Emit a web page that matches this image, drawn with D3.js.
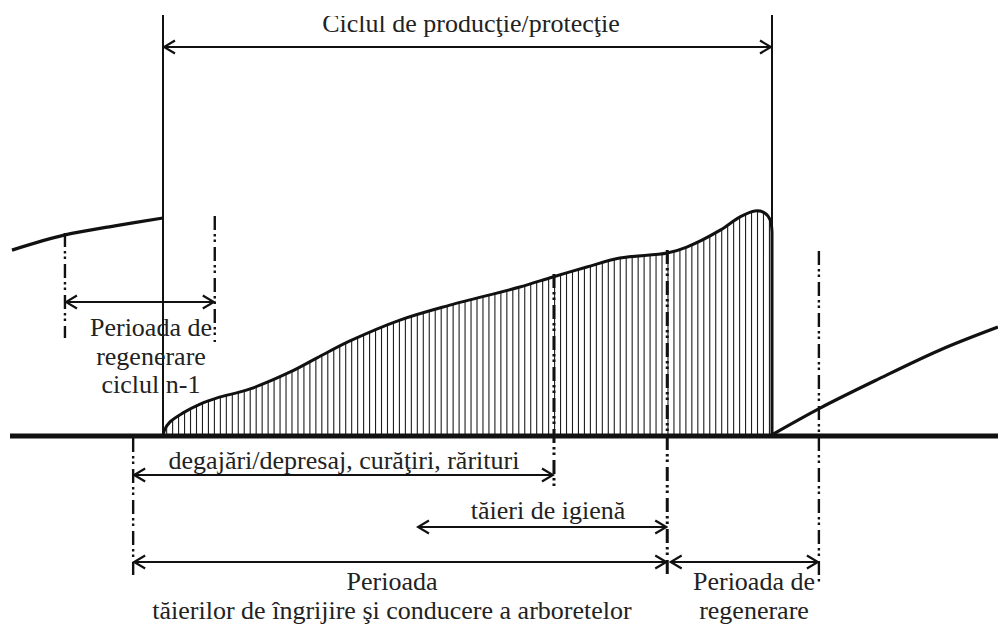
<!DOCTYPE html>
<html>
<head>
<meta charset="utf-8">
<script src="https://cdn.jsdelivr.net/npm/d3@7"></script>
<style>
  body { margin: 0; background: #fff; }
  svg { display: block; }
  text { font-family: "Liberation Serif", "Times New Roman", serif; fill: #222; }
</style>
</head>
<body>
<div id="diagram"></div>
<script>
// ciclul curent (varsta relativa 0-100 si marimea arboretului)
const cycleAge = [0, 0.25, 1.15, 3.3, 6.1, 8.9, 14.3, 20.9, 25.3, 30.7, 38.9, 47.1, 58.6, 64.0, 69.6, 75.0, 82.8, 86.0, 91.5, 94.7, 97.2, 98.8, 99.7, 100];
const cycleVal = [0, 2.7, 6.4, 10.5, 14.5, 17.3, 21.4, 29.1, 35.5, 43.2, 52.7, 59.5, 67.7, 72.3, 76.8, 80.9, 83.2, 85.9, 93.6, 99.5, 102.3, 101.4, 98.2, 92.7];

// ciclul n-1 si ciclul urmator
const prevAge = [-24.8, -16.1, -7.9, 0];
const prevVal = [84.5, 91.4, 95.5, 99.1];
const nextAge = [100.2, 107.9, 117.2, 127.6, 137.1];
const nextVal = [0.9, 12.7, 25.5, 39.1, 49.5];

// limitele perioadelor (varsta)
const marks = [-16.1, 8.5, -4.9, 64.2, 82.8, 107.7];

// perioadele marcate cu sageti
const periods = [
  { label: ["Ciclul de producţie/protecţie"], from: 0, to: 100 },
  { label: ["Perioada de", "regenerare", "ciclul n-1"], from: -16.1, to: 8.5 },
  { label: ["degajări/depresaj, curăţiri, rărituri"], from: -4.9, to: 64.2 },
  { label: ["tăieri de igienă"], from: 41.7, to: 82.8 },
  { label: ["Perioada", "tăierilor de îngrijire şi conducere a arboretelor"], from: -4.9, to: 82.8 },
  { label: ["Perioada de", "regenerare"], from: 83.2, to: 107.7 }
];

const width = 998, height = 626;

const x = d3.scaleLinear().domain([0, 100]).range([163, 772]);
const y = d3.scaleLinear().domain([0, 100]).range([436, 216]);

const svg = d3.select("#diagram")
  .append("svg")
  .attr("width", width)
  .attr("height", height);

const defs = svg.append("defs");

defs.append("marker")
  .attr("id", "head")
  .attr("viewBox", "-12 -8 14 16")
  .attr("refX", 0)
  .attr("refY", 0)
  .attr("markerWidth", 14)
  .attr("markerHeight", 16)
  .attr("markerUnits", "userSpaceOnUse")
  .attr("orient", "auto-start-reverse")
  .append("path")
  .attr("d", "M-11,-6.5 L0,0 L-11,6.5")
  .attr("fill", "none")
  .attr("stroke", "#111")
  .attr("stroke-width", 2.2);

const line = d3.line()
  .x(d => x(d[0]))
  .y(d => y(d[1]))
  .curve(d3.curveCatmullRom.alpha(0.5));

const cyclePts = cycleAge.map((a, i) => [a, cycleVal[i]]);
const topPath = line(cyclePts);
const areaPath = topPath + `L${x(100)},${y(0)}L${x(0)},${y(0)}Z`;

defs.append("clipPath")
  .attr("id", "cycle-clip")
  .append("path")
  .attr("d", areaPath);

// titlul e taiat sus, ca in original
defs.append("clipPath")
  .attr("id", "title-clip")
  .append("rect")
  .attr("x", 0).attr("y", 16)
  .attr("width", width).attr("height", 40);

// hasura verticala
svg.append("g")
  .attr("clip-path", "url(#cycle-clip)")
  .selectAll("line")
  .data(d3.range(0.6, 100, 0.98))
  .join("line")
  .attr("x1", d => x(d)).attr("x2", d => x(d))
  .attr("y1", y(110)).attr("y2", y(0))
  .attr("stroke", "#1e1e1e")
  .attr("stroke-width", 1.1);

// curba ciclului curent
svg.append("path")
  .attr("d", topPath + `L${x(100)},${y(0)}`)
  .attr("fill", "none")
  .attr("stroke", "#111")
  .attr("stroke-width", 3);

// ciclul anterior si urmator
[[prevAge, prevVal], [nextAge, nextVal]].forEach(([ages, vals]) => {
  svg.append("path")
    .attr("d", line(ages.map((a, i) => [a, vals[i]])))
    .attr("fill", "none")
    .attr("stroke", "#111")
    .attr("stroke-width", 3.2);
});

// linii verticale ale ciclului
svg.selectAll(".cycle-edge")
  .data([0, 100])
  .join("line")
  .attr("class", "cycle-edge")
  .attr("x1", d => x(d)).attr("x2", d => x(d))
  .attr("y1", 15).attr("y2", y(0))
  .attr("stroke", "#111")
  .attr("stroke-width", 2);

// linii punct-linie (limitele perioadelor)
const markSpan = [[233, 338], [216, 342], [438, 575], [274, 486], [250, 578], [251, 582]];
svg.selectAll(".mark")
  .data(marks)
  .join("line")
  .attr("class", "mark")
  .attr("x1", d => x(d)).attr("x2", d => x(d))
  .attr("y1", (d, i) => markSpan[i][0])
  .attr("y2", (d, i) => markSpan[i][1])
  .attr("stroke", "#111")
  .attr("stroke-width", (d, i) => (i === 3 || i === 4) ? 3 : 2.4)
  .attr("stroke-dasharray", "14,4,2.5,3,2.5,5");

// linia de baza
svg.append("line")
  .attr("x1", 10).attr("x2", width)
  .attr("y1", y(0)).attr("y2", y(0))
  .attr("stroke", "#111")
  .attr("stroke-width", 5);

// sageti si etichete
const arrowY = [47, 302, 475, 527, 562, 562];
const labelPos = [
  { cx: 471, ys: [32] },
  { cx: 151, ys: [336, 364.5, 393] },
  { cx: 344, ys: [469] },
  { cx: 548, ys: [519] },
  { cx: 392, ys: [590, 619] },
  { cx: 754, ys: [590, 619] }
];

periods.forEach((p, i) => {
  svg.append("line")
    .attr("x1", x(p.from) + 1).attr("x2", x(p.to) - 1)
    .attr("y1", arrowY[i]).attr("y2", arrowY[i])
    .attr("stroke", "#111")
    .attr("stroke-width", 2.2)
    .attr("marker-start", "url(#head)")
    .attr("marker-end", "url(#head)");

  const t = svg.append("text")
    .attr("text-anchor", "middle")
    .attr("font-size", 26);
  if (i === 0) t.attr("clip-path", "url(#title-clip)");
  p.label.forEach((s, k) => {
    t.append("tspan")
      .attr("x", labelPos[i].cx)
      .attr("y", labelPos[i].ys[k])
      .text(s);
  });
});
</script>
</body>
</html>
